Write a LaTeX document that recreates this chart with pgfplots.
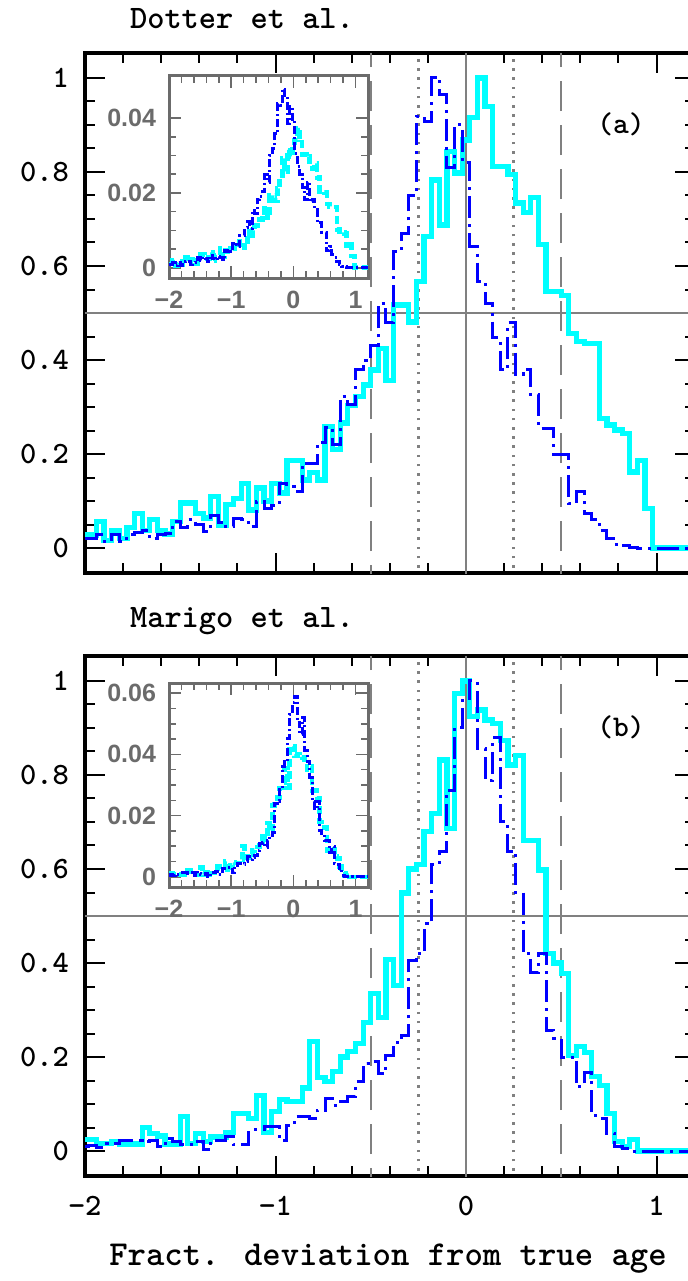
\documentclass[border=0pt]{standalone}
\usepackage{fontspec}
\usepackage{pgfplots}
\usepackage{pgfplotstable}
\pgfplotsset{compat=1.18}
\newfontfamily\insetfont{Liberation Sans}
\definecolor{refgray}{gray}{0.5}
\definecolor{insgray}{gray}{0.42}
\definecolor{cyn}{RGB}{0,255,255}
\definecolor{blu}{RGB}{0,0,255}

% histogram bins (centres, width 0.04); ca/ba = Dotter cyan/blue, cb/bb = Marigo cyan/blue
\pgfplotstableread{
x ca ba cb bb
-2.00 0.028 0.020 0.025 0.009
-1.96 0.028 0.020 0.025 0.012
-1.92 0.056 0.028 0.016 0.007
-1.88 0.017 0.015 0.016 0.016
-1.84 0.038 0.028 0.020 0.016
-1.80 0.021 0.015 0.015 0.022
-1.76 0.043 0.028 0.015 0.022
-1.72 0.074 0.034 0.015 0.022
-1.68 0.038 0.038 0.050 0.020
-1.64 0.060 0.020 0.038 0.023
-1.60 0.038 0.028 0.032 0.009
-1.56 0.030 0.030 0.015 0.027
-1.52 0.056 0.056 0.015 0.020
-1.48 0.096 0.043 0.073 0.014
-1.44 0.096 0.060 0.016 0.014
-1.40 0.074 0.050 0.038 0.020
-1.36 0.064 0.036 0.020 0.003
-1.32 0.109 0.070 0.030 0.023
-1.28 0.049 0.055 0.030 0.023
-1.24 0.092 0.045 0.040 0.030
-1.20 0.106 0.064 0.080 0.013
-1.16 0.138 0.060 0.080 0.013
-1.12 0.081 0.045 0.070 0.045
-1.08 0.128 0.100 0.119 0.045
-1.04 0.100 0.085 0.040 0.052
-1.00 0.138 0.090 0.085 0.052
-0.96 0.117 0.138 0.110 0.023
-0.92 0.187 0.130 0.106 0.055
-0.88 0.187 0.120 0.106 0.073
-0.84 0.145 0.180 0.134 0.073
-0.80 0.160 0.180 0.233 0.070
-0.76 0.145 0.225 0.156 0.087
-0.72 0.258 0.257 0.148 0.112
-0.68 0.209 0.220 0.170 0.098
-0.64 0.266 0.322 0.200 0.105
-0.60 0.304 0.305 0.211 0.116
-0.56 0.322 0.380 0.229 0.147
-0.52 0.347 0.400 0.273 0.186
-0.48 0.379 0.430 0.335 0.190
-0.44 0.425 0.520 0.284 0.165
-0.40 0.357 0.480 0.408 0.204
-0.36 0.517 0.630 0.353 0.230
-0.32 0.517 0.670 0.549 0.245
-0.28 0.481 0.750 0.600 0.406
-0.24 0.567 0.918 0.610 0.420
-0.20 0.662 0.908 0.680 0.484
-0.16 0.783 1.000 0.718 0.610
-0.12 0.687 0.964 0.832 0.637
-0.08 0.843 0.810 0.686 0.768
-0.04 0.798 0.900 0.974 0.900
0.00 0.868 0.820 1.000 0.963
0.04 0.915 0.641 0.924 1.000
0.08 1.000 0.567 0.938 0.856
0.12 0.939 0.520 0.917 0.789
0.16 0.811 0.447 0.910 0.880
0.20 0.811 0.380 0.874 0.700
0.24 0.794 0.480 0.821 0.637
0.28 0.734 0.370 0.842 0.550
0.32 0.713 0.380 0.660 0.420
0.36 0.745 0.326 0.660 0.380
0.40 0.645 0.255 0.598 0.420
0.44 0.545 0.255 0.420 0.257
0.48 0.545 0.200 0.400 0.240
0.52 0.538 0.200 0.378 0.200
0.56 0.457 0.095 0.204 0.200
0.60 0.440 0.120 0.222 0.137
0.64 0.436 0.074 0.210 0.168
0.68 0.436 0.060 0.158 0.075
0.72 0.276 0.038 0.140 0.070
0.76 0.262 0.020 0.080 0.038
0.80 0.251 0.008 0.020 0.009
0.84 0.244 0.005 0.010 0.005
0.88 0.162 0.002 0.025 0.000
0.92 0.187 0.000 0.000 0.000
0.96 0.085 0.000 0.000 0.000
1.00 0.000 0.000 0.000 0.000
1.04 0.000 0.000 0.000 0.000
1.08 0.000 0.000 0.000 0.000
1.12 0.000 0.000 0.000 0.000
1.16 0.000 0.000 0.000 0.000
1.20 0.000 0.000 0.000 0.000
}\hist

\pgfplotsset{
  mainax/.style={
    scale only axis, width=304.8pt, height=260pt,
    xmin=-2, xmax=1.2, ymin=-0.053, ymax=1.053,
    xtick={-2,-1,0,1}, minor x tick num=4,
    ytick={0,0.2,0.4,0.6,0.8,1}, yticklabels={0,0.2,0.4,0.6,0.8,1},
    minor y tick num=3,
    tick align=inside, xtick pos=both, ytick pos=both,
    xticklabel pos=lower, yticklabel pos=left,
    major tick length=10pt, minor tick length=5pt,
    every tick/.style={black, line width=1pt},
    axis line style={line width=1.8pt},
    tick label style={font=\ttfamily\bfseries\fontsize{15.5}{18}\selectfont},
    yticklabel style={xshift=-4.5pt},
    xticklabel style={yshift=-6.5pt},
  },
  insetax/.style={
    scale only axis, width=99.5pt,
    xmin=-2, xmax=1.2, xtick={-2,-1,0,1}, xticklabels={−2,−1,0,1},
    minor x tick num=4, minor y tick num=3,
    scaled y ticks=false,
    tick align=inside, xtick pos=both, ytick pos=both,
    xticklabel pos=lower, yticklabel pos=left,
    major tick length=6pt, minor tick length=3.5pt,
    every tick/.style={insgray, line width=0.8pt},
    axis line style={insgray, line width=1.5pt},
    axis background/.style={fill=white},
    tick label style={font=\insetfont\bfseries\fontsize{12.5}{14}\selectfont, text=insgray},
    yticklabel style={xshift=-3pt},
    xticklabel style={yshift=-3pt},
  },
  cyanmain/.style={cyn, line width=2.6pt, const plot mark mid, line join=miter},
  bluemain/.style={blu, line width=1.5pt, const plot mark mid,
    dash pattern=on 11pt off 3pt on 1.5pt off 3pt},
  cyanins/.style={cyn, line width=2.4pt, const plot mark mid,
    dash pattern=on 4pt off 2pt},
  blueins/.style={blu, line width=1.5pt, const plot mark mid,
    dash pattern=on 4pt off 1.5pt on 1pt off 1.5pt},
}

\newcommand\reflines{%
  \addplot[refgray, line width=1pt] coordinates {(0,-0.1) (0,1.1)};
  \addplot[refgray, line width=1.2pt, dash pattern=on 15pt off 7pt] coordinates {(-0.5,-0.1) (-0.5,1.1)};
  \addplot[refgray, line width=1.2pt, dash pattern=on 15pt off 7pt] coordinates {(0.5,-0.1) (0.5,1.1)};
  \addplot[refgray, line width=1.3pt, dash pattern=on 1.3pt off 3.3pt] coordinates {(-0.25,-0.1) (-0.25,1.1)};
  \addplot[refgray, line width=1.3pt, dash pattern=on 1.3pt off 3.3pt] coordinates {(0.25,-0.1) (0.25,1.1)};
  \addplot[refgray, line width=1pt] coordinates {(-2,0.5) (1.2,0.5)};
}

\begin{document}
\begin{tikzpicture}[x=0.5pt, y=-0.5pt]
\useasboundingbox (0,0) rectangle (688,1281);
\coordinate (pa) at (85,573);
\coordinate (ia) at (169,278);
\coordinate (pb) at (85,1176);
\coordinate (ib) at (169,887);

% panel (a): Dotter et al.
\begin{axis}[mainax, at={(pa)}, anchor=south west, xticklabels={}]
  \reflines
  \addplot[cyanmain] table[x=x, y=ca] {\hist};
  \addplot[bluemain] table[x=x, y=ba] {\hist};
\end{axis}
\begin{axis}[insetax, at={(ia)}, anchor=south west, height=101pt,
  ymin=-0.0027, ymax=0.0512, ytick={0,0.02,0.04}, yticklabels={0,0.02,0.04}]
  \addplot[cyanins] table[x=x, y expr=\thisrow{ca}*0.0373] {\hist};
  \addplot[blueins] table[x=x, y expr=\thisrow{ba}*0.0477] {\hist};
\end{axis}

% panel (b): Marigo et al.
\begin{axis}[mainax, at={(pb)}, anchor=south west, xticklabels={−2,−1,0,1}]
  \reflines
  \addplot[cyanmain] table[x=x, y=cb] {\hist};
  \addplot[bluemain] table[x=x, y=bb] {\hist};
\end{axis}
\begin{axis}[insetax, at={(ib)}, anchor=south west, height=102pt,
  ymin=-0.0033, ymax=0.0633, ytick={0,0.02,0.04,0.06}, yticklabels={0,0.02,0.04,0.06}]
  \addplot[cyanins] table[x=x, y expr=\thisrow{cb}*0.0427] {\hist};
  \addplot[blueins] table[x=x, y expr=\thisrow{bb}*0.059] {\hist};
\end{axis}

\node[anchor=base west, font=\ttfamily\bfseries\fontsize{16.4}{19}\selectfont] at (123,28) {Dotter et al.};
\node[anchor=base west, font=\ttfamily\bfseries\fontsize{16.4}{19}\selectfont] at (123,627) {Marigo et al.};
\node[font=\ttfamily\bfseries\fontsize{15}{17}\selectfont] at (621,124) {(a)};
\node[font=\ttfamily\bfseries\fontsize{15}{17}\selectfont] at (621,727) {(b)};
\node[anchor=base, font=\ttfamily\bfseries\fontsize{17.5}{20}\selectfont] at (388,1265) {Fract. deviation from true age};
\end{tikzpicture}
\end{document}
